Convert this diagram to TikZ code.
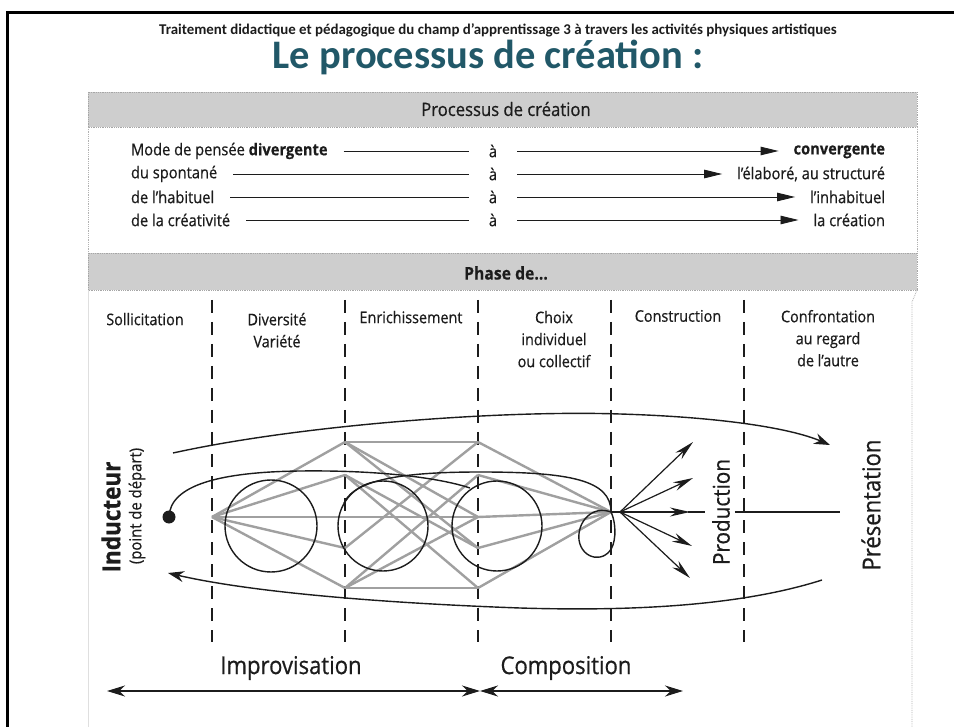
\documentclass[tikz,border=0pt]{standalone}
\usepackage{fontspec}
\setmainfont{Carlito}
\newfontfamily\cond[FakeStretch=0.9, FakeBold=0.6, BoldFeatures={FakeBold=0.3}]{Open Sans}
\usetikzlibrary{arrows.meta}
\definecolor{titleteal}{RGB}{33,88,104}
\definecolor{bandgray}{RGB}{206,206,206}
\definecolor{ink}{RGB}{28,28,28}
\definecolor{netgray}{RGB}{160,160,160}
\begin{document}
\begin{tikzpicture}[x=1pt,y=-1pt,
  every node/.style={inner sep=0pt, outer sep=0pt, text=ink},
  band/.style={fill=bandgray, draw=gray!70, densely dotted, line width=0.8pt},
  boxedge/.style={draw=gray!60, densely dotted, line width=0.8pt},
  rowtext/.style={font=\cond\fontsize{16.3}{20}\selectfont},
  rowline/.style={draw=ink, line width=0.9pt},
  rowarrow/.style={draw=ink, line width=0.9pt, -{Triangle[length=18pt,width=8.5pt]}},
  phase/.style={font=\cond\fontsize{16}{22}\selectfont, align=center, anchor=north},
  sepline/.style={draw=ink, line width=1.6pt, dash pattern=on 13pt off 9pt},
  net/.style={draw=netgray, line width=2.4pt},
  curve/.style={draw=ink, line width=1.4pt},
  bigtip/.style={-{Stealth[length=16pt,width=11pt]}},
  fanarrow/.style={draw=ink, line width=1.2pt, -{Stealth[length=20pt,width=9pt]}},
  spanarrow/.style={draw=ink, line width=2pt, {Stealth[length=18pt,width=11pt]}-{Stealth[length=18pt,width=11pt]}},
  bigtext/.style={font=\cond\fontsize{24.5}{28}\selectfont},
]
\useasboundingbox (0,0) rectangle (954,727);
\fill[white] (0,0) rectangle (954,727);
% frame
\draw[line width=3pt] (7,727) -- (7,13) -- (954,13);

% titles
\node[font=\bfseries\fontsize{14.9}{17}\selectfont] (sub) at (498,30) {Traitement didactique et pédagogique du champ d'apprentissage 3 à travers les activités physiques artistiques};
\node[font=\bfseries\fontsize{40.5}{46}\selectfont, text=titleteal] (title) at (488,57) {Le processus de création :};

% table bands
\draw[band] (88,92) rectangle (917,127);
\node[font=\cond\fontsize{18.5}{22}\selectfont] (proc) at (506,109) {Processus de création};
\draw[boxedge] (88,127) -- (88,253);
\draw[boxedge] (917,127) -- (917,253);
\draw[band] (88,253) rectangle (917,290);
\node[font=\cond\bfseries\fontsize{17.5}{22}\selectfont] (phase) at (506,273) {Phase de...};
\draw[boxedge] (917,290) -- (912,302) -- (912,727);
\draw[draw=gray!25, line width=0.6pt] (88,290) -- (88,727);

% rows
\node[rowtext, anchor=west] (l1) at (131,151) {Mode de pensée \textbf{divergente}};
\node[rowtext, anchor=west] (l2) at (131,174) {du spontané};
\node[rowtext, anchor=west] (l3) at (131,197) {de l’habituel};
\node[rowtext, anchor=west] (l4) at (131,220) {de la créativité};
\node[rowtext] (a1) at (493,151) {à};
\node[rowtext] (a2) at (493,174) {à};
\node[rowtext] (a3) at (493,197) {à};
\node[rowtext] (a4) at (493,220) {à};
\node[rowtext, anchor=east] (r1) at (885,151) {\textbf{convergente}};
\node[rowtext, anchor=east] (r2) at (885,174) {l’élaboré, au structuré};
\node[rowtext, anchor=east] (r3) at (885,197) {l’inhabituel};
\node[rowtext, anchor=east] (r4) at (885,220) {la création};
\foreach \i in {1,2,3,4}{
  \draw[rowline] ([xshift=16pt]l\i.east) -- ([xshift=-20pt]a\i.west);
  \draw[rowarrow] ([xshift=20pt]a\i.east) -- ([xshift=-15pt]r\i.west);
}

% phase headers
\node[phase] (h1) at (145,313) {Sollicitation};
\node[phase] (h2) at (277,313) {Diversité\\Variété};
\node[phase] (h3) at (411,311) {Enrichissement};
\node[phase] (h4) at (554,311) {Choix\\individuel\\ou collectif};
\node[phase] (h5) at (678,310) {Construction};
\node[phase] (h6) at (828,310) {Confrontation\\au regard\\de l’autre};

% dashed separators
\foreach \x in {212,345,478,611,744}{
  \draw[sepline] (\x,300) -- (\x,642);
}

% network
\coordinate (s) at (212,517);
\coordinate (m1) at (345,442);
\coordinate (m2) at (345,475);
\coordinate (m3) at (345,517);
\coordinate (m4) at (345,548);
\coordinate (m5) at (345,588);
\coordinate (n1) at (478,442);
\coordinate (n2) at (478,475);
\coordinate (n3) at (478,517);
\coordinate (n4) at (478,548);
\coordinate (n5) at (478,588);
\coordinate (e) at (611,512);
\foreach \k in {1,...,5}{
  \draw[net] (s) -- (m\k);
  \draw[net] (n\k) -- (e);
}
\draw[net] (m1) -- (n1);
\draw[net] (m5) -- (n5);
\draw[net] (m3) -- (n3);
\draw[net] (m1) -- (n3);
\draw[net] (m1) -- (n4);
\draw[net] (m2) -- (n5);
\draw[net] (m4) -- (n1);
\draw[net] (m5) -- (n2);
\draw[net] (m5) -- (n3);
\draw[net] (m2) -- (n4);

% circles
\draw[curve] (271,526) circle[radius=46];
\draw[curve] (383,526) circle[radius=45];
\draw[curve] (497,526) circle[radius=45];

% inducteur dot and loops
\fill[ink] (169,517) circle[radius=6.5] coordinate (dot);
\draw[curve] (dot) .. controls (170,485) and (220,472) .. (300,471) .. controls (380,470) and (440,478) .. (470,488);
\draw[curve] (344,503) .. controls (355,478) and (410,472) .. (480,472) .. controls (570,472) and (611,480) .. (e);
\draw[curve] (e) .. controls (592,505) and (577,522) .. (579,540) .. controls (582,560) and (606,564) .. (613,545) .. controls (617,532) and (614,518) .. (e);

% big curves
\coordinate (topstart) at (173,453);
\coordinate (toptip) at (830,445);
\draw[curve, bigtip] (topstart) .. controls (300,425) and (500,410) .. (620,414) .. controls (720,417) and (790,428) .. (toptip);
\coordinate (botstart) at (822,580);
\coordinate (bottip) at (168,573);
\draw[curve, bigtip] (botstart) .. controls (750,603) and (650,612) .. (520,608) .. controls (380,603) and (250,592) .. (bottip);

% production fan
\coordinate (f) at (620,512);
\draw[ink, line width=1.2pt] (e) -- (f);
\draw[fanarrow] (f) -- (693,442);
\draw[fanarrow] (f) -- (693,478);
\draw[fanarrow] (f) -- (690,512);
\draw[fanarrow] (f) -- (692,546);
\draw[fanarrow] (f) -- (690,578);
\draw[ink, line width=1.2pt] (688,512) -- (705,512);
\node[font=\cond\fontsize{23}{26}\selectfont, rotate=90] (prod) at (721,512) {Production};
\node[bigtext, rotate=90] (pres) at (871,505) {Présentation};
\draw[ink, line width=1.2pt] ([xshift=5pt]prod.south) -- (840,512);

% inducteur
\node[font=\cond\bfseries\fontsize{25}{30}\selectfont, rotate=90] (ind) at (111,517) {Inducteur};
\node[font=\cond\fontsize{16.5}{19}\selectfont, rotate=90] (ptd) at (137,506) {(point de départ)};

% bottom
\node[bigtext] (impro) at (291,668) {Improvisation};
\node[bigtext] (compo) at (566,668) {Composition};
\coordinate (b1) at (107,691);
\coordinate (b2) at (480,691);
\coordinate (b3) at (683,691);
\draw[spanarrow] (b1) -- (b2);
\draw[spanarrow] (b2) -- (b3);
\end{tikzpicture}
\end{document}
